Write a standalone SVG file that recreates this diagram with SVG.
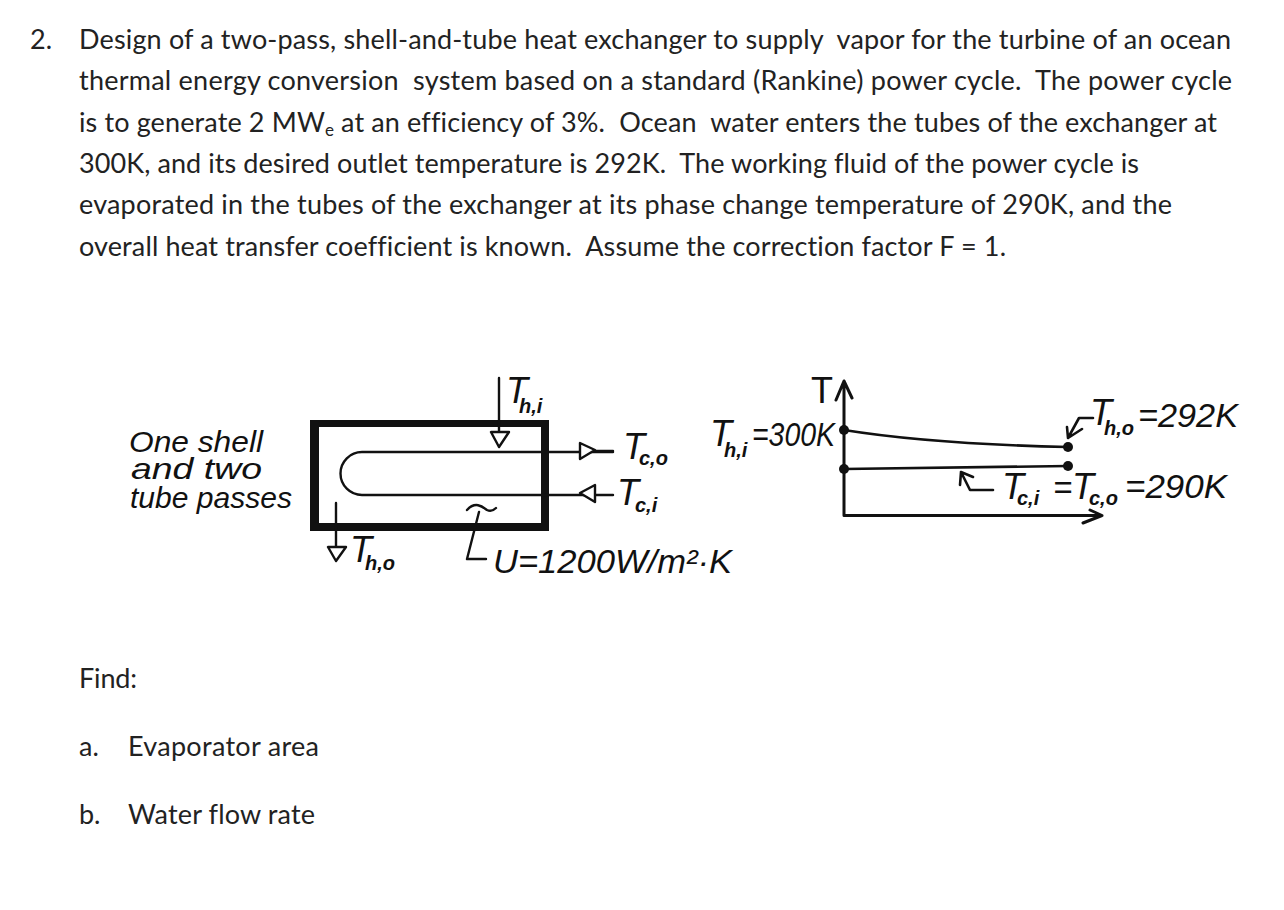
<svg xmlns="http://www.w3.org/2000/svg" width="1284" height="910" viewBox="0 0 1284 910">
<style>
.b{font-family:Lato,"Open Sans","Liberation Sans",sans-serif;font-size:27px;fill:#222;white-space:pre;font-variant-ligatures:none}
.h{font-family:"Liberation Sans",Arial,sans-serif;font-style:italic;fill:#111}
.w{font-size:29px}
.t{font-size:36px}
.s{font-size:20px;font-weight:bold}
.v{font-size:33px}
.l{fill:none;stroke:#111;stroke-width:2.4;stroke-linecap:round;stroke-linejoin:round}
.a{fill:#fff;stroke:#111;stroke-width:2.4;stroke-linejoin:round}
.d{fill:#111}
</style>
<rect width="1284" height="910" fill="#fff"/>
<g id="problem-text">
<text class="b" x="30" y="49">2.</text>
<text class="b" x="79" y="49" textLength="1152">Design of a two-pass, shell-and-tube heat exchanger to supply  vapor for the turbine of an ocean</text>
<text class="b" x="79" y="90" textLength="1153">thermal energy conversion  system based on a standard (Rankine) power cycle.  The power cycle</text>
<text class="b" x="79" y="132" textLength="1138">is to generate 2 MW<tspan font-size="17" dy="4">e</tspan><tspan dy="-4"> at an efficiency of 3%.  Ocean  water enters the tubes of the exchanger at</tspan></text>
<text class="b" x="79" y="173" textLength="1060">300K, and its desired outlet temperature is 292K.  The working fluid of the power cycle is</text>
<text class="b" x="79" y="214" textLength="1093">evaporated in the tubes of the exchanger at its phase change temperature of 290K, and the</text>
<text class="b" x="79" y="256" textLength="927">overall heat transfer coefficient is known.  Assume the correction factor F = 1.</text>
</g>
<g id="find-text">
<text class="b" x="79" y="688" textLength="58">Find:</text>
<text class="b" x="79" y="756">a.</text>
<text class="b" x="128" y="756" textLength="191">Evaporator area</text>
<text class="b" x="79" y="824">b.</text>
<text class="b" x="128" y="824" textLength="187">Water flow rate</text>
</g>
<g id="shell-label">
<text class="h w" x="129" y="452" textLength="134" lengthAdjust="spacingAndGlyphs">One shell</text>
<text class="h w" x="131" y="479" textLength="131" lengthAdjust="spacingAndGlyphs">and two</text>
<text class="h w" x="130" y="508" textLength="162" lengthAdjust="spacingAndGlyphs">tube passes</text>
</g>
<g id="exchanger">
<path d="M310 420H549V531H310ZM319 427V523H541V427Z" fill="#111" fill-rule="evenodd"/>
<path class="l" d="M613 452H362A21.500 21.500 0 0 0 362 495H613"/>
</g>
<g id="connectors">
<path class="l" d="M499 378V432M336 503V547M580 451H613M467 510C476 500 484 508 487 510C491 512 494 510 496 508M479 512L467 559H486"/>
<path class="a" d="M491 432H509L499 447ZM328 547H346L336 561ZM580 443V459L595 450ZM595 485V502L580 493Z"/>
</g>
<g id="exchanger-labels">
<text class="h t" x="506" y="403">T</text><text class="h s" x="519" y="413">h,i</text>
<text class="h t" x="350" y="562">T</text><text class="h s" x="365" y="570">h,o</text>
<text class="h t" x="623" y="459">T</text><text class="h s" x="639" y="465">c,o</text>
<text class="h t" x="617" y="505">T</text><text class="h s" x="635" y="512">c,i</text>
<text class="h v" x="493" y="573" textLength="239" lengthAdjust="spacingAndGlyphs">U=1200W/m²·K</text>
</g>
<g id="temperature-plot">
<path class="l" d="M844 381V515.500H1102M836 400L844 381L852 398M1090 510L1102 515.500L1083 523" style="stroke-width:3"/>
<path class="l" d="M844 430C900 439 980 445 1068 447M844 469L1068 466M1093 418H1079L1068 438M1067 427L1068 438L1082 429M993 490H970L961 472M960 485L961 472L973 477" style="stroke-width:2.600"/>
<circle class="d" cx="844" cy="430" r="5"/>
<circle class="d" cx="844" cy="469" r="5"/>
<circle class="d" cx="1068" cy="447" r="5"/>
<circle class="d" cx="1068" cy="466" r="5"/>
</g>
<g id="plot-labels">
<text class="h t" x="811" y="403" style="font-style:normal">T</text>
<text class="h t" x="710" y="446">T</text><text class="h s" x="724" y="457">h,i</text><text class="h v" x="752" y="446" textLength="83" lengthAdjust="spacingAndGlyphs">=300K</text>
<text class="h t" x="1090" y="425">T</text><text class="h s" x="1104" y="435">h,o</text><text class="h v" x="1138" y="427" textLength="100" lengthAdjust="spacingAndGlyphs">=292K</text>
<text class="h t" x="1002" y="499">T</text><text class="h s" x="1017" y="505">c,i</text><text class="h v" x="1053" y="499">=</text><text class="h t" x="1072" y="499">T</text><text class="h s" x="1089" y="505">c,o</text><text class="h v" x="1125" y="498" textLength="102" lengthAdjust="spacingAndGlyphs">=290K</text>
</g>
</svg>
